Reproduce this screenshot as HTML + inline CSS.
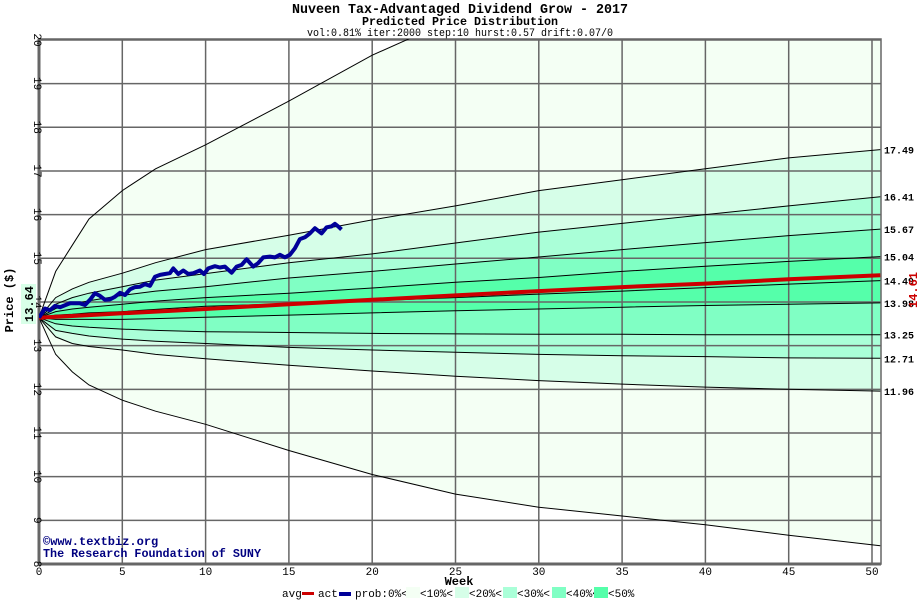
<!DOCTYPE html>
<html><head><meta charset="utf-8"><style>
html,body{margin:0;padding:0;background:#fff;}
svg{display:block;font-family:"Liberation Mono","DejaVu Sans Mono",monospace;}
</style></head><body>
<svg id="chart" width="920" height="600" viewBox="0 0 920 600" xmlns="http://www.w3.org/2000/svg">
<text x="460" y="13" text-anchor="middle" font-size="14" font-weight="bold" textLength="336" lengthAdjust="spacingAndGlyphs">Nuveen Tax-Advantaged Dividend Grow - 2017</text>
<text x="460" y="25" text-anchor="middle" font-size="12" font-weight="bold" textLength="196" lengthAdjust="spacingAndGlyphs">Predicted Price Distribution</text>
<text x="460" y="36" text-anchor="middle" font-size="11" textLength="306" lengthAdjust="spacingAndGlyphs">vol:0.81% iter:2000 step:10 hurst:0.57 drift:0.07/0</text>
<defs><clipPath id="pc"><rect x="39" y="39" width="842" height="525"/></clipPath></defs>
<g id="bands" clip-path="url(#pc)"></g>
<g id="grid"></g>
<g id="lines" clip-path="url(#pc)"></g>
<g id="labels"></g>
<text x="43" y="545" font-size="12" font-weight="bold" fill="#000080">©www.textbiz.org</text>
<text x="43" y="557" font-size="12" font-weight="bold" fill="#000080" textLength="218" lengthAdjust="spacingAndGlyphs">The Research Foundation of SUNY</text>
<text x="459" y="585" text-anchor="middle" font-size="12" font-weight="bold">Week</text>
<text transform="translate(13,300) rotate(-90)" text-anchor="middle" font-size="12" font-weight="bold">Price ($)</text>
<rect x="21" y="284" width="15" height="40" fill="#d8ffe8"/>
<text transform="translate(33,304) rotate(-90)" text-anchor="middle" font-size="12" font-weight="bold">13.64</text>
<text transform="translate(917,290) rotate(-90)" text-anchor="middle" font-size="12" font-weight="bold" fill="#cc0000">14.61</text>
<g id="legend" font-size="11">
<text x="282" y="597">avg</text><rect x="302" y="592" width="12" height="3" fill="#cc0000"/>
<text x="318" y="597">act</text><rect x="339" y="592" width="12" height="4" fill="#000099"/>
<text x="355" y="597">prob:0%&lt;</text><rect x="406" y="587" width="14" height="11" fill="#f4fff4"/>
<text x="420" y="597">&lt;10%&lt;</text><rect x="455" y="587" width="14" height="11" fill="#d6fee8"/>
<text x="469" y="597">&lt;20%&lt;</text><rect x="503" y="587" width="14" height="11" fill="#aaffd8"/>
<text x="517" y="597">&lt;30%&lt;</text><rect x="552" y="587" width="14" height="11" fill="#80ffc4"/>
<text x="566" y="597">&lt;40%&lt;</text><rect x="594" y="587" width="14" height="11" fill="#55ffaa"/>
<text x="608" y="597">&lt;50%</text>
</g>
</svg>
<script>
const weeks=[0,1,2,3,5,7,10,15,20,25,30,35,40,45,50.5];
const outerU=[13.64,14.7,15.3,15.9,16.55,17.05,17.6,18.6,19.65,20.5,21.3,22,22.6,23.2,23.8];
const outerL=[13.64,12.8,12.4,12.1,11.75,11.5,11.2,10.6,10.05,9.6,9.3,9.1,8.9,8.66,8.42];
const q9=[13.64,14.1,14.3,14.45,14.66,14.9,15.2,15.53,15.88,16.2,16.55,16.8,17.05,17.3,17.49];
const q8=[13.64,13.95,14.1,14.2,14.35,14.5,14.65,14.9,15.1,15.35,15.6,15.8,16.0,16.2,16.41];
const q7=[13.64,13.85,13.95,14.03,14.15,14.25,14.35,14.55,14.7,14.87,15.03,15.2,15.36,15.52,15.67];
const q6=[13.64,13.78,13.84,13.88,13.95,14.02,14.1,14.2,14.32,14.45,14.56,14.7,14.82,14.93,15.04];
const q5=[13.64,13.7,13.72,13.75,13.78,13.83,13.9,13.96,14.03,14.1,14.18,14.25,14.33,14.41,14.49];
const q4=[13.64,13.6,13.6,13.6,13.6,13.62,13.65,13.7,13.75,13.8,13.84,13.88,13.92,13.95,13.98];
const q3=[13.64,13.5,13.45,13.42,13.38,13.35,13.32,13.3,13.28,13.27,13.26,13.26,13.25,13.25,13.25];
const q2=[13.64,13.35,13.28,13.22,13.15,13.1,13.05,12.96,12.9,12.85,12.8,12.77,12.75,12.72,12.71];
const q1=[13.64,13.2,13.05,12.98,12.9,12.8,12.7,12.55,12.42,12.3,12.2,12.12,12.05,12.0,11.96];
const avgVals=[13.64,13.66,13.68,13.7,13.74,13.78,13.84,13.95,14.05,14.15,14.25,14.34,14.42,14.52,14.61];
const endLabels=["17.49","16.41","15.67","15.04","14.49","13.98","13.25","12.71","11.96"];
const actWeeks=[0,0.36,0.66,0.96,1.26,1.86,2.46,2.76,3.06,3.36,3.66,3.96,4.26,4.56,4.86,5.16,5.46,5.76,6.06,6.36,6.66,6.96,7.26,7.56,7.86,8.06,8.36,8.66,8.96,9.26,9.66,9.9,10.16,10.56,10.86,11.16,11.56,11.86,12.16,12.46,12.86,13.16,13.46,13.86,14.16,14.46,14.76,15.06,15.36,15.66,15.96,16.26,16.56,16.96,17.26,17.56,17.76,17.96,18.16];
const actVals=[13.64,13.85,13.81,13.91,13.88,13.97,13.97,13.93,14.05,14.2,14.14,14.05,14.06,14.12,14.21,14.16,14.29,14.34,14.35,14.41,14.37,14.58,14.62,14.64,14.66,14.77,14.64,14.72,14.64,14.66,14.72,14.64,14.77,14.82,14.79,14.81,14.67,14.81,14.85,14.98,14.81,14.89,15.02,15.04,15.02,15.08,15.02,15.08,15.23,15.44,15.48,15.57,15.69,15.57,15.71,15.73,15.79,15.73,15.66];
const xTicks=[0,5,10,15,20,25,30,35,40,45,50];
const yTicks=[8,9,10,11,12,13,14,15,16,17,18,19,20];

const NS="http://www.w3.org/2000/svg";
const X=w=>39+w*16.66;
const Y=p=>564-(p-8)*43.67;
function mk(tag,attrs,parent){const e=document.createElementNS(NS,tag);for(const k in attrs)e.setAttribute(k,attrs[k]);parent.appendChild(e);return e;}
function pts(vals){return vals.map((v,i)=>X(weeks[i]).toFixed(1)+","+Y(v).toFixed(1));}
const bands=document.getElementById('bands'),grid=document.getElementById('grid'),lines=document.getElementById('lines'),labels=document.getElementById('labels');
const bandDefs=[[outerU,outerL,'#f4fff4','band-0'],[q9,q1,'#d6fee8','band-10'],[q8,q2,'#aaffd8','band-20'],[q7,q3,'#80ffc4','band-30'],[q6,q4,'#55ffaa','band-40']];
bandDefs.forEach(b=>{
  const p=mk('polygon',{points:pts(b[0]).concat(pts(b[1]).reverse()).join(' '),fill:b[2]},bands);
  
  
});
xTicks.forEach(t=>{
  const l=mk('line',{x1:X(t),x2:X(t),y1:39,y2:564,stroke:'#666','stroke-width':t===0?3:1.5},grid);
  
  
  const tx=mk('text',{x:X(t),y:575,'text-anchor':'middle','font-size':11},labels);
  tx.textContent=t;
  
  
});
yTicks.forEach(t=>{
  const l=mk('line',{x1:39,x2:881,y1:Y(t),y2:Y(t),stroke:'#666','stroke-width':(t===8)?3:1.5},grid);
  
  
  const tx=mk('text',{transform:'translate(34,'+Y(t)+') rotate(90)','text-anchor':'middle','font-size':11},labels);
  tx.textContent=t;
  
  
});
const fr=mk('rect',{x:39,y:39,width:842,height:525,fill:'none',stroke:'#666','stroke-width':1.5},grid);


[outerU,outerL,q9,q8,q7,q6,q5,q4,q3,q2,q1].forEach(q=>{
  const l=mk('polyline',{points:pts(q).join(' '),fill:'none',stroke:'#000','stroke-width':1},lines);
  
  
});
const av=mk('polyline',{points:pts(avgVals).join(' '),fill:'none',stroke:'#cc0000','stroke-width':4},lines);


const ap=actWeeks.map((w,i)=>X(w).toFixed(1)+","+Y(actVals[i]).toFixed(1)).join(' ');
const ac=mk('polyline',{points:ap,fill:'none',stroke:'#000099','stroke-width':4,'stroke-linejoin':'round'},lines);


[q9,q8,q7,q6,q5,q4,q3,q2,q1].forEach((q,i)=>{
  const t=mk('text',{x:884,y:Y(q[q.length-1])+4,'font-size':10,'font-weight':'bold'},labels);
  t.textContent=endLabels[i];
  
  
});
</script>
</body></html>
